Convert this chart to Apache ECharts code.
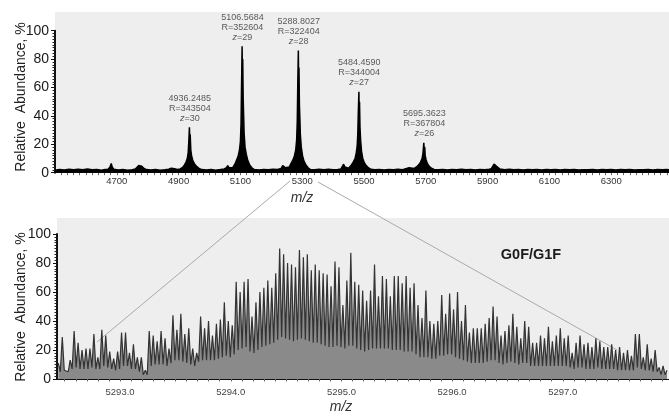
<!DOCTYPE html>
<html>
<head>
    <meta charset="utf-8" />
    <title>Mass spectrum</title>
    <script src="https://cdn.jsdelivr.net/npm/echarts@6.0.0/dist/echarts.min.js"></script>
    <style>
        html, body { margin: 0; padding: 0; background: #fff; }
        #main { width: 669px; height: 418px; }
    </style>
</head>
<body>
<div id="main"></div>
<script type="text/javascript">
    // 全谱 (m/z, 相对丰度 %)
    var survey = [
        [4500,1.8],[4515,2.2],[4530,1.9],[4545,2.4],[4560,2.0],[4575,2.5],[4590,2.1],[4605,2.6],[4620,2.0],[4635,2.3],[4650,1.8],[4662,2.2],
        [4672,2.4],[4678,4],[4682,6.5],[4685,4],[4690,2.5],
        [4705,1.9],[4720,2.2],[4735,1.8],[4750,2.1],
        [4760,2.6],[4766,3.5],[4771,5],[4776,6],[4781,4.5],[4788,3],[4796,2.2],
        [4810,1.9],[4825,2.3],[4840,1.8],[4855,2.1],
        [4868,2.4],[4876,3.2],[4881,3.8],[4887,2.8],[4895,2.2],
        [4905,2.6],[4912,3.5],[4918,5],[4924,7.5],[4928,10],[4931,14],[4933,22],[4935,32],[4936.5,22],[4937.5,27],[4939.5,16],[4942,12],[4946,8.5],[4952,6],[4958,4.5],[4966,3],[4975,2.2],
        [4990,1.9],[5005,2.3],[5020,1.8],[5035,2.2],[5048,2.6],
        [5055,3.5],[5059,5],[5063,3.5],[5068,2.5],
        [5075,3.5],[5082,6],[5088,9],[5093,12],[5097,16],[5100,22],[5102,34],[5103.5,58],[5105.5,89],[5106.5,66],[5107.5,80],[5109,52],[5110.5,40],[5112,28],[5115,18],[5119,13],[5124,8.5],[5130,5.5],[5137,3.5],[5145,2.2],
        [5160,1.9],[5175,2.3],[5190,2.0],[5205,2.4],[5220,2.2],
        [5232,3],[5237,5],[5241,5.5],[5246,3.5],[5252,3],
        [5258,4],[5264,6.5],[5270,9],[5275,12],[5279,16],[5282,23],[5284,36],[5285.5,60],[5287.5,86],[5288.5,64],[5289.5,74],[5291,48],[5292.5,38],[5294,27],[5297,18],[5301,12],[5306,8],[5312,5.5],[5319,3.5],[5327,2.2],
        [5340,2.0],[5355,2.4],[5370,2.1],[5385,2.5],[5400,2.0],[5415,2.3],[5425,2.6],
        [5430,3.5],[5434,6],[5438,4],[5443,3],
        [5450,3.2],[5458,5],[5465,7.5],[5471,10],[5475,14],[5478,19],[5480,28],[5481.5,42],[5483.5,57],[5484.5,40],[5485.5,50],[5487,32],[5489,23],[5492,15],[5496,10],[5501,7],[5507,5],[5514,3.5],[5522,2.4],
        [5535,2.0],[5550,2.3],[5565,1.9],[5580,2.2],[5595,2.0],[5610,2.4],[5625,2.1],
        [5635,2.8],[5641,4],[5646,3.5],[5652,2.6],
        [5662,3],[5670,4],[5677,5.5],[5683,7.5],[5688,10],[5691,14],[5693.5,21],[5695,16],[5696.5,18],[5698,12],[5701,9],[5705,6.5],[5711,4.5],[5718,3.2],[5727,2.3],
        [5740,2.0],[5755,2.3],[5770,1.9],[5785,2.2],[5800,2.0],[5815,2.4],[5830,2.0],[5845,2.3],[5860,1.9],[5875,2.2],[5890,2.0],[5905,2.4],
        [5912,2.8],[5917,4],[5921,6],[5925,6.5],[5929,4.5],[5934,3.5],[5940,2.6],
        [5955,2.1],[5970,2.4],[5985,2.0],[6000,2.3],[6015,1.9],[6030,2.2],[6045,2.0],[6060,2.3],[6075,1.9],[6090,2.2],
        [6105,2.0],[6120,2.3],[6135,1.9],[6150,2.2],[6165,2.0],[6180,2.3],[6195,1.9],[6210,2.1],[6225,2.0],[6240,2.3],
        [6255,1.9],[6270,2.2],[6285,2.0],[6300,2.3],[6315,1.9],[6330,2.2],[6345,2.0],[6360,2.3],[6375,1.9],[6390,2.1],
        [6405,2.0],[6420,2.3],[6435,1.9],[6450,2.2],[6465,2.0],[6480,2.2],[6487,2.0]
    ];

    // 标注的电荷态峰
    var peakMz = [4936.2485, 5106.5684, 5288.8027, 5484.4590, 5695.3623];
    var peakTop = [32, 89, 86, 57, 21];
    var peakR = [343504, 352604, 322404, 344004, 367804];
    var peakZ = [30, 29, 28, 27, 26];

    var topLabels = [4700, 4900, 5100, 5300, 5500, 5700, 5900, 6100, 6300];

    // z=28 放大图：同位素峰 (间隔 1/28)
    var zoomStart = 5292.442;
    var zoomStep = 1 / 28;
    var zoomPeaks = [
        11, 29, 7, 13, 33, 25, 20, 21, 21, 31,
        15, 34, 30, 19, 14, 19, 32, 32, 18, 24,
        15, 15, 6, 33, 30, 26, 33, 28, 21, 44,
        34, 45, 31, 35, 21, 18, 43, 35, 40, 30,
        38, 41, 53, 40, 37, 67, 60, 67, 69, 43,
        53, 60, 63, 68, 63, 73, 90, 86, 80, 79,
        77, 89, 84, 86, 75, 79, 75, 73, 72, 64,
        81, 77, 51, 68, 87, 67, 65, 61, 54, 61,
        79, 57, 71, 69, 57, 71, 71, 66, 71, 63,
        66, 51, 42, 61, 40, 38, 40, 58, 45, 59,
        48, 60, 40, 51, 32, 35, 35, 35, 38, 42,
        50, 43, 30, 33, 37, 45, 36, 28, 40, 36,
        25, 25, 30, 28, 36, 26, 30, 35, 28, 30,
        18, 25, 30, 24, 25, 22, 28, 26, 22, 22,
        24, 20, 22, 18, 20, 16, 31, 31, 15, 24,
        14, 20, 8, 9, 6
    ];
    var zoomValleys = [
        5, 6, 5, 7, 8, 7, 7, 7, 8, 7,
        7, 9, 8, 7, 6, 7, 9, 9, 7, 7,
        5, 3, 3, 9, 10, 10, 10, 9, 11, 13,
        13, 12, 11, 10, 9, 12, 13, 13, 13, 13,
        14, 15, 16, 15, 17, 20, 21, 22, 19, 18,
        20, 22, 23, 24, 25, 27, 29, 28, 27, 26,
        27, 28, 27, 26, 25, 25, 24, 23, 22, 22,
        23, 22, 21, 23, 23, 21, 20, 19, 20, 21,
        21, 21, 21, 21, 20, 20, 20, 19, 19, 19,
        17, 15, 15, 15, 14, 14, 16, 16, 17, 17,
        15, 14, 13, 12, 11, 11, 11, 11, 12, 13,
        13, 11, 10, 11, 12, 11, 10, 11, 11, 9,
        9, 9, 9, 9, 9, 9, 9, 9, 9, 8,
        7, 8, 8, 7, 7, 7, 8, 7, 7, 7,
        7, 6, 6, 6, 6, 6, 8, 7, 6, 6,
        5, 5, 3, 3
    ];
    var zoomLabels = [5293.0, 5294.0, 5295.0, 5296.0, 5297.0];

    var narrow = "'Liberation Sans Narrow', 'Liberation Sans', sans-serif";
    var sans = "'Liberation Sans', Arial, sans-serif";

    // 刻度
    var topTicks = [];
    for (var t = 4520; t <= 6480; t += 20) topTicks.push(t);
    var zoomTicks = [];
    for (var k = 52925; k <= 52979; k++) zoomTicks.push(k / 10);

    var zoomData = [];
    zoomPeaks.forEach(function (h, i) {
        zoomData.push([zoomStart + i * zoomStep, h]);
        if (i < zoomValleys.length) zoomData.push([zoomStart + (i + 0.5) * zoomStep, zoomValleys[i]]);
    });

    var chart = echarts.init(document.getElementById('main'));

    function yAxisOf(idx) {
        return {
            gridIndex: idx, type: 'value', min: 0, max: 100, interval: 20,
            axisLine: { show: true, lineStyle: { color: '#111', width: 2 } },
            axisTick: { show: true, length: 4, lineStyle: { color: '#111' } },
            minorTick: { show: true, splitNumber: 10, length: 2.5, lineStyle: { color: '#222' } },
            splitLine: { show: false },
            axisLabel: { fontSize: 14, color: '#1a1a1a', margin: 6, fontFamily: sans }
        };
    }

    var option = {
        animation: false,
        backgroundColor: '#ffffff',
        grid: [
            { left: 55, right: 0, top: 30.7, height: 142 },
            { left: 57, right: 0, top: 234, height: 145 }
        ],
        xAxis: [
            {
                gridIndex: 0, type: 'value', min: 4500, max: 6487,
                axisLine: { lineStyle: { color: '#111', width: 1 } },
                axisTick: { customValues: topTicks, length: 2.5, lineStyle: { color: '#666' } },
                axisLabel: {
                    customValues: topLabels, fontSize: 9.5, color: '#333', margin: 4, fontFamily: narrow,
                    formatter: function (v) { return String(v); }
                },
                splitLine: { show: false }
            },
            {
                gridIndex: 1, type: 'value', min: 5292.43, max: 5297.96,
                axisLine: { lineStyle: { color: '#111', width: 1 } },
                axisTick: { customValues: zoomTicks, length: 2.5, lineStyle: { color: '#666' } },
                axisLabel: {
                    customValues: zoomLabels, fontSize: 9.5, color: '#444', margin: 8, fontFamily: narrow,
                    formatter: function (v) { return v.toFixed(1); }
                },
                splitLine: { show: false }
            }
        ],
        yAxis: [yAxisOf(0), yAxisOf(1)],
        graphic: [
            { type: 'rect', z: -100, shape: { x: 55, y: 12, width: 614, height: 160.7 }, style: { fill: '#eeeeee' } },
            { type: 'rect', z: -100, shape: { x: 57, y: 218, width: 612, height: 161 }, style: { fill: '#eeeeee' } },
            { type: 'line', z: -50, shape: { x1: 290, y1: 181, x2: 97, y2: 342 }, style: { stroke: '#aaaaaa', lineWidth: 1 } },
            { type: 'line', z: -50, shape: { x1: 318, y1: 182, x2: 617, y2: 350 }, style: { stroke: '#aaaaaa', lineWidth: 1 } },
            { type: 'text', x: 21, y: 97, rotation: Math.PI / 2,
              style: { text: 'Relative  Abundance, %', fontSize: 14, fontFamily: sans, fill: '#222', align: 'center', verticalAlign: 'middle' } },
            { type: 'text', x: 21, y: 307, rotation: Math.PI / 2,
              style: { text: 'Relative  Abundance, %', fontSize: 14, fontFamily: sans, fill: '#222', align: 'center', verticalAlign: 'middle' } },
            { type: 'text', x: 302, y: 198,
              style: { text: 'm/z', fontSize: 14, fontStyle: 'italic', fontFamily: sans, fill: '#333', align: 'center', verticalAlign: 'middle' } },
            { type: 'text', x: 341, y: 407,
              style: { text: 'm/z', fontSize: 14, fontStyle: 'italic', fontFamily: sans, fill: '#333', align: 'center', verticalAlign: 'middle' } },
            { type: 'text', x: 531, y: 255,
              style: { text: 'G0F/G1F', fontSize: 14.5, fontWeight: 'bold', fontFamily: sans, fill: '#1a1a1a', align: 'center', verticalAlign: 'middle' } }
        ],
        series: [
            {
                type: 'line', xAxisIndex: 0, yAxisIndex: 0, data: survey,
                symbol: 'none', silent: true,
                lineStyle: { color: '#000', width: 1.5, join: 'bevel' },
                areaStyle: { color: '#000', opacity: 1 }
            },
            {
                type: 'scatter', xAxisIndex: 0, yAxisIndex: 0, symbolSize: 0, silent: true,
                data: peakMz.map(function (m, i) { return [m, peakTop[i]]; }),
                label: {
                    show: true, position: 'top', distance: 4,
                    formatter: function (p) {
                        var i = p.dataIndex;
                        return '{a|' + peakMz[i].toFixed(4) + '}\n{a|R=' + peakR[i] + '}\n{z|z}{a|=' + peakZ[i] + '}';
                    },
                    rich: {
                        a: { fontSize: 9, fontFamily: narrow, color: '#333', lineHeight: 10 },
                        z: { fontSize: 9, fontFamily: narrow, fontStyle: 'italic', color: '#333', lineHeight: 10 }
                    }
                }
            },
            {
                type: 'line', xAxisIndex: 1, yAxisIndex: 1, data: zoomData,
                symbol: 'none', silent: true,
                lineStyle: { color: '#333333', width: 1.2, join: 'bevel' },
                areaStyle: { color: '#8a8a8a', opacity: 1 }
            }
        ]
    };

    chart.setOption(option);
</script>
</body>
</html>
